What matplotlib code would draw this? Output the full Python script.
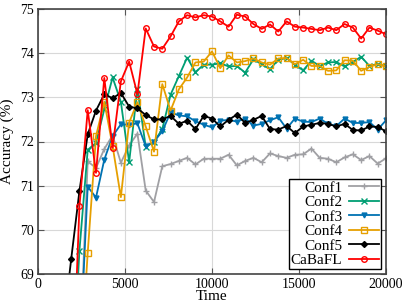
import matplotlib
matplotlib.use('Agg')
import matplotlib.pyplot as plt
import numpy as np

# time axis (shared by every series)
time = [0, 476, 952, 1429, 1905, 2381, 2857, 3333, 3810, 4286, 4762, 5238, 5714,
        6190, 6667, 7143, 7619, 8095, 8571, 9048, 9524, 10000, 10476, 10952,
        11429, 11905, 12381, 12857, 13333, 13810, 14286, 14762, 15238, 15714,
        16190, 16667, 17143, 17619, 18095, 18571, 19048, 19524, 20000]

# accuracy values, starting at index 'start' of time
conf1_start = 5
conf1 = [67.0, 71.55, 71.40, 71.83, 72.14, 71.52, 71.91, 72.18, 70.89, 70.63,
         71.44, 71.49, 71.56, 71.63, 71.48, 71.61, 71.61, 71.61, 71.70, 71.46,
         71.56, 71.63, 71.53, 71.73, 71.67, 71.63, 71.70, 71.71, 71.84, 71.63,
         71.61, 71.53, 71.64, 71.71, 71.58, 71.67, 71.50, 71.62]
conf2_start = 4
conf2 = [66.0, 69.53, 71.81, 71.97, 72.73, 73.45, 72.90, 71.53, 73.20, 71.88,
         71.99, 72.28, 73.06, 73.48, 73.90, 73.57, 73.74, 73.74, 73.77, 73.70,
         73.71, 73.56, 73.86, 73.75, 73.64, 73.85, 73.89, 73.74, 73.61, 73.83,
         73.71, 73.79, 73.80, 73.70, 73.80, 73.92, 73.71, 73.76, 73.70]
conf3_start = 5
conf3 = [67.0, 70.98, 70.73, 71.59, 72.12, 72.39, 72.38, 72.41, 71.89, 72.00,
         72.23, 72.66, 72.59, 72.57, 72.46, 72.38, 72.32, 72.47, 72.49, 72.45,
         72.52, 72.36, 72.40, 72.48, 72.55, 72.29, 72.52, 72.45, 72.44, 72.52,
         72.40, 72.35, 72.52, 72.42, 72.42, 72.44, 72.27, 72.48]
conf4_start = 5
conf4 = [66.5, 69.48, 72.12, 72.90, 71.90, 70.74, 72.43, 72.89, 72.34, 71.77,
         73.30, 72.70, 73.18, 73.45, 73.79, 73.81, 74.04, 73.66, 73.95, 73.79,
         73.82, 73.88, 73.79, 73.74, 73.88, 73.89, 73.75, 73.85, 73.71, 73.71,
         73.60, 73.61, 73.84, 73.83, 73.60, 73.69, 73.75, 73.70]
conf5_start = 3
conf5 = [67.7, 69.33, 70.88, 72.16, 72.70, 73.07, 72.98, 73.10, 72.79, 72.75,
         72.60, 72.50, 72.50, 72.58, 72.40, 72.47, 72.28, 72.58, 72.52, 72.34,
         72.49, 72.61, 72.42, 72.49, 72.58, 72.28, 72.27, 72.35, 72.19, 72.34,
         72.38, 72.42, 72.40, 72.34, 72.40, 72.26, 72.25, 72.34, 72.33, 72.23]
cabafl_start = 4
cabafl = [65.6, 70.53, 72.71, 71.29, 73.44, 71.86, 73.36, 73.81, 73.07, 74.56,
          74.15, 74.10, 74.38, 74.72, 74.86, 74.81, 74.86, 74.83, 74.72, 74.60,
          74.87, 74.83, 74.66, 74.55, 74.65, 74.49, 74.72, 74.60, 74.58, 74.55,
          74.52, 74.58, 74.52, 74.66, 74.58, 74.33, 74.58, 74.51, 74.43]

plt.rcParams['font.family'] = ['Liberation Serif', 'DejaVu Serif']

fig = plt.figure(figsize=(4.07, 3.05), dpi=100)
ax = fig.add_axes([38 / 407, 1 - 274 / 305, 348 / 407, 265 / 305])

series = [
    ('Conf1', conf1_start, conf1, '#a0a0a4', '+', dict(markersize=5, mew=1.0)),
    ('Conf2', conf2_start, conf2, '#009e73', 'x', dict(markersize=4, mew=1.0)),
    ('Conf3', conf3_start, conf3, '#0072b2', 'v', dict(markersize=3.5)),
    ('Conf4', conf4_start, conf4, '#e69f00', 's', dict(markersize=4, mfc='none', mew=1.0)),
    ('Conf5', conf5_start, conf5, 'black', 'D', dict(markersize=3)),
    ('CaBaFL', cabafl_start, cabafl, '#ff0000', 'o', dict(markersize=4, mfc='none', mew=1.0)),
]
for name, start, vals, col, mk, kw in series:
    t = time[start:start + len(vals)]
    ax.plot(t, vals, color=col, marker=mk, lw=1.3, label=name, **kw)

ax.set_xlim(0, 20000)
ax.set_ylim(69, 75)
ax.set_xticks([0, 5000, 10000, 15000, 20000])
ax.set_yticks([69, 70, 71, 72, 73, 74, 75])
ax.grid(True, color='#d8d8d8', lw=0.8)
ax.set_axisbelow(True)
ax.tick_params(direction='in', top=True, right=True, labelsize=10, length=4,
               color='#555555', pad=3)
for s in ax.spines.values():
    s.set_color('#444444')
    s.set_linewidth(1.2)

ax.set_xlabel('Time', fontsize=11, labelpad=-1)
ax.set_ylabel('Accuracy (%)', fontsize=11, labelpad=4)

leg = ax.legend(loc='lower right', markerfirst=False, fontsize=11,
                frameon=True, fancybox=False, edgecolor='black',
                labelspacing=0.05, borderpad=0.15, handlelength=2.0,
                handletextpad=0.4, borderaxespad=0.3, framealpha=1)
leg.get_frame().set_linewidth(1.0)

fig.savefig('out.png', dpi=100)
